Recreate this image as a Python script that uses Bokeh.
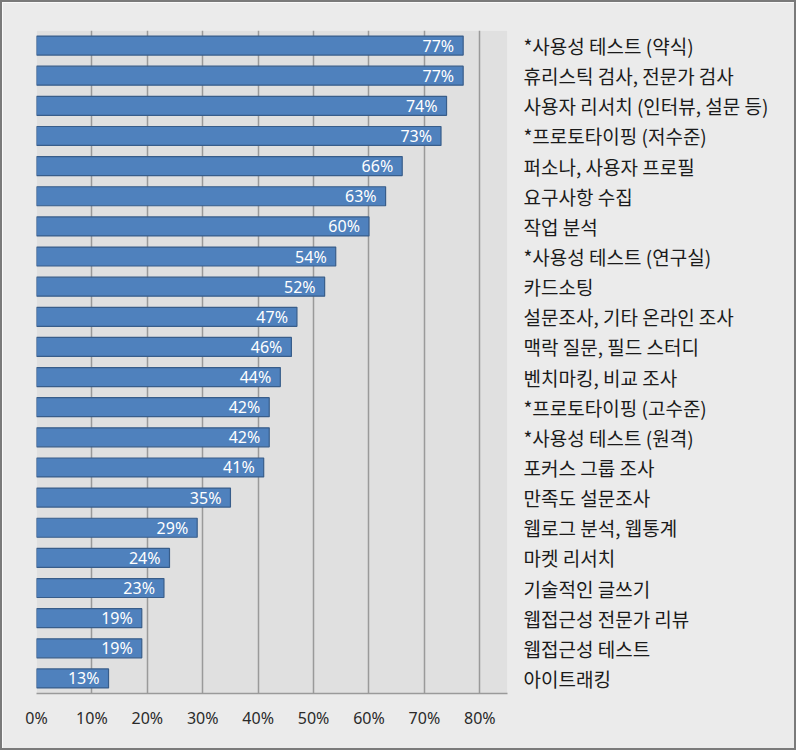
from bokeh.plotting import figure
from bokeh.models import FactorRange, FixedTicker, NumeralTickFormatter, ColumnDataSource
from bokeh.core.properties import value
from bokeh.embed import file_html
from bokeh.resources import INLINE

categories = [
    "*사용성 테스트 (약식)",
    "휴리스틱 검사, 전문가 검사",
    "사용자 리서치 (인터뷰, 설문 등)",
    "*프로토타이핑 (저수준)",
    "퍼소나, 사용자 프로필",
    "요구사항 수집",
    "작업 분석",
    "*사용성 테스트 (연구실)",
    "카드소팅",
    "설문조사, 기타 온라인 조사",
    "맥락 질문, 필드 스터디",
    "벤치마킹, 비교 조사",
    "*프로토타이핑 (고수준)",
    "*사용성 테스트 (원격)",
    "포커스 그룹 조사",
    "만족도 설문조사",
    "웹로그 분석, 웹통계",
    "마켓 리서치",
    "기술적인 글쓰기",
    "웹접근성 전문가 리뷰",
    "웹접근성 테스트",
    "아이트래킹",
]
values = [0.77, 0.77, 0.74, 0.73, 0.66, 0.63, 0.60, 0.54, 0.52, 0.47, 0.46,
          0.44, 0.42, 0.42, 0.41, 0.35, 0.29, 0.24, 0.23, 0.19, 0.19, 0.13]
x_ticks = [0, 0.1, 0.2, 0.3, 0.4, 0.5, 0.6, 0.7, 0.8]

labels = [f"{round(v * 100)}%" for v in values]
src = ColumnDataSource(dict(cat=categories, val=values, lab=labels))

FONT = "Noto Sans CJK KR"
NUMFONT = "Noto Sans"

p = figure(
    width=796, height=750,
    y_range=FactorRange(factors=list(reversed(categories))),
    x_range=(0, 0.85),
    output_backend="svg", toolbar_location=None,
    y_axis_location="right",
    min_border_left=34, min_border_right=291,
    min_border_top=28, min_border_bottom=59,
)
p.styles = {"border": "2px solid #7a7a7a"}
p.background_fill_color = "#e0e0e0"
p.border_fill_color = "#ebebeb"
p.outline_line_color = None

p.hbar(y="cat", right="val", left=0, height=0.63, source=src,
       fill_color="#4f81bd", line_color="#385d8a", line_width=1.2)

p.text(x="val", y="cat", text="lab", source=src,
       x_offset=-9, text_align="right", text_baseline="middle",
       text_color="white", text_font_size="16px", text_font=value(NUMFONT))

p.xaxis.ticker = FixedTicker(ticks=x_ticks)
p.xaxis.formatter = NumeralTickFormatter(format="0%")
p.xaxis.major_tick_line_color = None
p.xaxis.minor_tick_line_color = None
p.xaxis.axis_line_color = "#9a9a9a"
p.xaxis.axis_line_width = 1.5
p.xaxis.major_label_standoff = 7
p.xaxis.major_label_text_font = NUMFONT
p.xaxis.major_label_text_font_size = "16px"
p.xaxis.major_label_text_color = "#2a2a2a"

p.yaxis.axis_line_color = None
p.yaxis.major_tick_line_color = None
p.yaxis.minor_tick_line_color = None
p.yaxis.major_label_standoff = 10
p.yaxis.major_label_text_font = FONT
p.yaxis.major_label_text_font_size = "19px"
p.yaxis.major_label_text_color = "#1a1a1a"

p.xgrid.ticker = FixedTicker(ticks=x_ticks)
p.xgrid.grid_line_color = "#9a9a9a"
p.xgrid.grid_line_width = 1.5
p.ygrid.grid_line_color = None

open("out.html", "w").write(file_html(p, INLINE))
